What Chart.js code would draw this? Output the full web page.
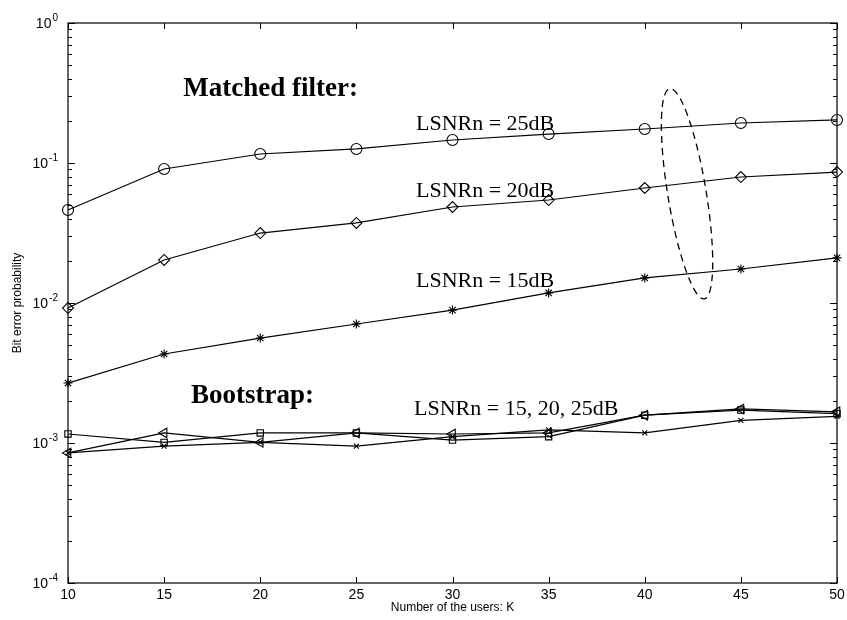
<!DOCTYPE html>
<html><head><meta charset="utf-8">
<script src="https://cdn.jsdelivr.net/npm/chart.js@4/dist/chart.umd.min.js"></script>
<style>html,body{margin:0;padding:0;background:#fff;}#wrap{width:847px;height:620px;position:relative;}</style>
</head><body><div id="wrap"><canvas id="c" width="847" height="620"></canvas></div>
<script>
// ---- data ----
const users = [10, 15, 20, 25, 30, 35, 40, 45, 50];
const mf25 = [0.0462, 0.0906, 0.116, 0.126, 0.146, 0.161, 0.175, 0.193, 0.203];
const mf20 = [0.0092, 0.0203, 0.0316, 0.0373, 0.0485, 0.0544, 0.0663, 0.0794, 0.0862];
const mf15 = [0.00268, 0.00432, 0.00562, 0.00708, 0.0089, 0.0118, 0.0151, 0.0175, 0.021];
const bsSquare = [0.00116, 0.00101, 0.00118, 0.00118, 0.00105, 0.00111, 0.00158, 0.00172, 0.00162];
const bsTriangle = [0.00085, 0.00118, 0.00101, 0.00118, 0.00116, 0.00118, 0.00158, 0.00175, 0.00167];
const bsCross = [0.00085, 0.00095, 0.00101, 0.00095, 0.00111, 0.00124, 0.00118, 0.00145, 0.00155];
const xTicks = [10, 15, 20, 25, 30, 35, 40, 45, 50];
const yTickValues = [1e-4, 1e-3, 1e-2, 1e-1, 1];
const yTickExponents = ['-4', '-3', '-2', '-1', '0'];
const xTitle = 'Number of the users: K';
const yTitle = 'Bit error probability';

// annotations (data coordinates)
const notes = [
  {text: 'Matched filter:', k: 16.0, v: 0.30, bold: true, size: 27},
  {text: 'LSNRn = 25dB', k: 28.1, v: 0.172, bold: false, size: 22},
  {text: 'LSNRn = 20dB', k: 28.1, v: 0.0572, bold: false, size: 22},
  {text: 'LSNRn = 15dB', k: 28.1, v: 0.013, bold: false, size: 22},
  {text: 'Bootstrap:', k: 16.4, v: 0.00193, bold: true, size: 27},
  {text: 'LSNRn = 15, 20, 25dB', k: 28.0, v: 0.00158, bold: false, size: 22}
];
const ellipseTop = {k: 41.3, v: 0.34};
const ellipseBottom = {k: 43.1, v: 0.0107};
const ellipseHalfWidthK = 1.0;

function series(data, style, radius, rotation) {
  return {
    data: users.map((u, i) => ({x: u, y: data[i]})),
    borderColor: '#000', backgroundColor: 'rgba(0,0,0,0)',
    borderWidth: 1.2, pointStyle: style, pointRadius: radius,
    pointBorderColor: '#000', pointBorderWidth: 1.1,
    pointRotation: rotation || 0, tension: 0, clip: false, fill: false
  };
}

const frame = {
  id: 'frame',
  beforeDatasetsDraw(chart) {
    const ctx = chart.ctx, a = chart.chartArea;
    ctx.save();
    ctx.strokeStyle = '#000'; ctx.lineWidth = 1.2;
    ctx.strokeRect(a.left, a.top, a.right - a.left, a.bottom - a.top);
    ctx.restore();
  },
  afterDatasetsDraw(chart) {
    const ctx = chart.ctx, a = chart.chartArea;
    const xs = chart.scales.x, ys = chart.scales.y;
    ctx.save();
    ctx.strokeStyle = '#000'; ctx.fillStyle = '#000'; ctx.lineWidth = 1;
    // x ticks
    ctx.beginPath();
    xTicks.forEach(t => {
      const px = Math.round(xs.getPixelForValue(t)) + 0.5;
      ctx.moveTo(px, a.bottom); ctx.lineTo(px, a.bottom - 6);
      ctx.moveTo(px, a.top); ctx.lineTo(px, a.top + 6);
    });
    // y ticks
    for (let d = -4; d <= 0; d++) {
      for (let m = 1; m <= 9; m++) {
        const v = m * Math.pow(10, d);
        if (v > 1 + 1e-9) break;
        const py = Math.round(ys.getPixelForValue(v)) + 0.5;
        const len = m === 1 ? 7 : 4;
        ctx.moveTo(a.left, py); ctx.lineTo(a.left + len, py);
        ctx.moveTo(a.right, py); ctx.lineTo(a.right - len, py);
      }
    }
    ctx.stroke();
    // x tick labels
    ctx.font = '14px "Liberation Sans", Arial, sans-serif';
    ctx.textAlign = 'center'; ctx.textBaseline = 'middle';
    xTicks.forEach(t => ctx.fillText(String(t), xs.getPixelForValue(t), a.bottom + 12));
    // y tick labels with superscript exponent
    yTickValues.forEach((v, i) => {
      const py = ys.getPixelForValue(v);
      ctx.font = '10px "Liberation Sans", Arial, sans-serif';
      const ew = ctx.measureText(yTickExponents[i]).width;
      const right = a.left - 10;
      ctx.textAlign = 'left'; ctx.textBaseline = 'alphabetic';
      ctx.fillText(yTickExponents[i], right - ew, py - 2);
      ctx.font = '14px "Liberation Sans", Arial, sans-serif';
      ctx.textAlign = 'right'; ctx.textBaseline = 'middle';
      ctx.fillText('10', right - ew - 1, py + 1);
    });
    // axis titles
    ctx.font = '12px "Liberation Sans", Arial, sans-serif';
    ctx.textAlign = 'center'; ctx.textBaseline = 'middle';
    ctx.fillText(xTitle, (a.left + a.right) / 2, a.bottom + 25);
    ctx.save();
    ctx.translate(18, (a.top + a.bottom) / 2);
    ctx.rotate(-Math.PI / 2);
    ctx.fillText(yTitle, 0, 0);
    ctx.restore();
    // annotations
    ctx.textAlign = 'left'; ctx.textBaseline = 'alphabetic';
    notes.forEach(n => {
      ctx.font = (n.bold ? 'bold ' : '') + n.size + 'px "Liberation Serif", "Times New Roman", serif';
      ctx.fillText(n.text, xs.getPixelForValue(n.k), ys.getPixelForValue(n.v));
    });
    // dashed ellipse
    const tx = xs.getPixelForValue(ellipseTop.k), ty = ys.getPixelForValue(ellipseTop.v);
    const bx = xs.getPixelForValue(ellipseBottom.k), by = ys.getPixelForValue(ellipseBottom.v);
    const cx = (tx + bx) / 2, cy = (ty + by) / 2;
    const ry = Math.hypot(bx - tx, by - ty) / 2;
    const rx = xs.getPixelForValue(10 + ellipseHalfWidthK) - xs.getPixelForValue(10);
    const rot = -Math.atan2(bx - tx, by - ty);
    ctx.setLineDash([7, 5]); ctx.lineWidth = 1.3;
    ctx.beginPath();
    ctx.ellipse(cx, cy, rx, ry, rot, 0, Math.PI * 2);
    ctx.stroke();
    ctx.restore();
  }
};

new Chart(document.getElementById('c'), {
  type: 'line',
  data: {
    datasets: [
      series(mf25, 'circle', 5.5),
      series(mf20, 'rectRot', 5.5),
      series(mf15, 'star', 4.5),
      series(bsSquare, 'rect', 4.5),
      series(bsTriangle, 'triangle', 5.5, -90),
      series(bsCross, 'crossRot', 3.5)
    ]
  },
  options: {
    responsive: false, animation: false, devicePixelRatio: 1,
    layout: {padding: {left: 68, right: 10, top: 23, bottom: 37}},
    plugins: {legend: {display: false}, tooltip: {enabled: false}},
    scales: {
      x: {type: 'linear', min: 10, max: 50, display: false},
      y: {type: 'logarithmic', min: 1e-4, max: 1, display: false}
    }
  },
  plugins: [frame]
});
</script>
</body></html>
